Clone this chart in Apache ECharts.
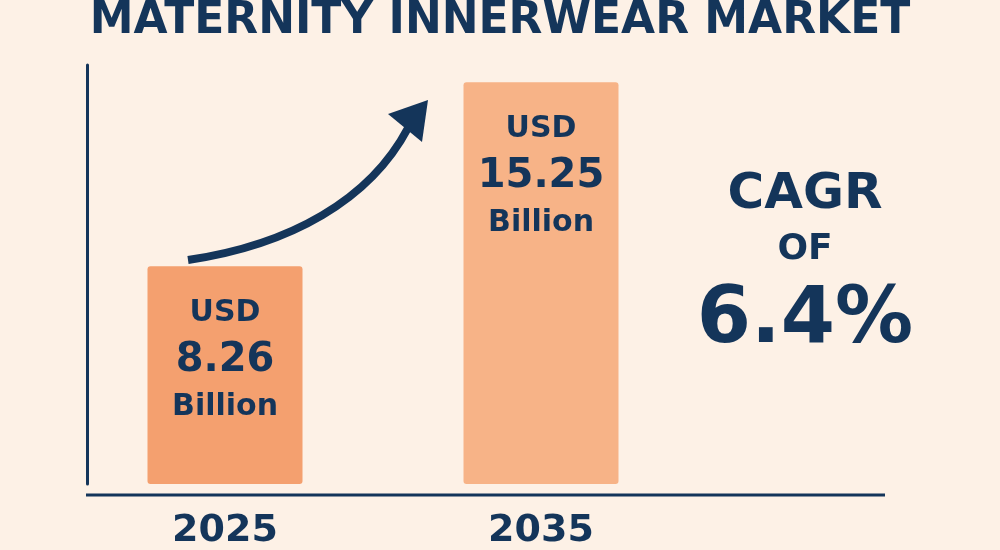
<!DOCTYPE html>
<html>
<head>
<meta charset="utf-8">
<script src="https://cdn.jsdelivr.net/npm/echarts@6/dist/echarts.min.js"></script>
<style>
  html, body { margin: 0; padding: 0; background: #fdf1e6; }
  #chart { width: 1000px; height: 550px; }
</style>
</head>
<body>
<div id="chart"></div>
<script>
// data
var years = ['2025', '', '2035', '', '']
var values = [8.26, null, 15.25, null, null]
var barColors = ['#f4a06f', null, '#f7b387']
var cagr = '6.4%'

var navy = '#14355a'
var font = 'DejaVu Sans'

var chart = echarts.init(document.getElementById('chart'))
chart.setOption({
  backgroundColor: '#fdf1e6',
  animation: false,
  grid: { left: 146, top: 65, width: 790, bottom: 55 },
  xAxis: {
    type: 'category',
    data: years,
    axisLine: { show: false },
    axisTick: { show: false },
    axisLabel: { color: navy, fontSize: 38, fontWeight: 'bold', fontFamily: font, margin: 28 }
  },
  yAxis: {
    type: 'value',
    min: 0,
    max: 15.9,
    offset: 59,
    splitLine: { show: false },
    axisLabel: { show: false },
    axisTick: { show: false },
    axisLine: { show: true, lineStyle: { color: navy, width: 3 } }
  },
  series: [{
    type: 'bar',
    barWidth: 155,
    data: values.map(function (v, i) {
      return v == null ? null : { value: v, itemStyle: { color: barColors[i], borderRadius: 3 } }
    }),
    label: {
      show: true,
      position: 'insideTop',
      distance: 24,
      align: 'center',
      fontFamily: font,
      formatter: function (p) { return '{u|USD}\n{n|' + p.value.toFixed(2) + '}\n{u|Billion}' },
      rich: {
        u: { fontSize: 30, fontWeight: 'bold', color: navy, fontFamily: font, lineHeight: 46 },
        n: { fontSize: 40, fontWeight: 'bold', color: navy, fontFamily: font, lineHeight: 48 }
      }
    }
  }],
  graphic: [
    { type: 'line', shape: { x1: 86, y1: 495, x2: 885, y2: 495 }, style: { stroke: navy, lineWidth: 3 } },
    { type: 'text', left: 'center', top: 0, style: { text: 'MATERNITY INNERWEAR MARKET', fill: navy, font: 'bold 44px "DejaVu Sans"' } },
    { type: 'bezierCurve', shape: { x1: 188, y1: 260, cpx1: 290, cpy1: 245, cpx2: 370, cpy2: 200, x2: 408, y2: 128 },
      style: { stroke: navy, lineWidth: 8, fill: null } },
    { type: 'polygon', shape: { points: [[428, 100], [388, 114], [422, 142]] }, style: { fill: navy } },
    { type: 'text', x: 805, y: 195, style: { text: 'CAGR', fill: navy, font: 'bold 50px "DejaVu Sans"', align: 'center', verticalAlign: 'middle' } },
    { type: 'text', x: 805, y: 250, style: { text: 'OF', fill: navy, font: 'bold 36px "DejaVu Sans"', align: 'center', verticalAlign: 'middle' } },
    { type: 'text', x: 805, y: 322, style: { text: cagr, fill: navy, font: 'bold 78px "DejaVu Sans"', align: 'center', verticalAlign: 'middle' } }
  ]
})
</script>
</body>
</html>
